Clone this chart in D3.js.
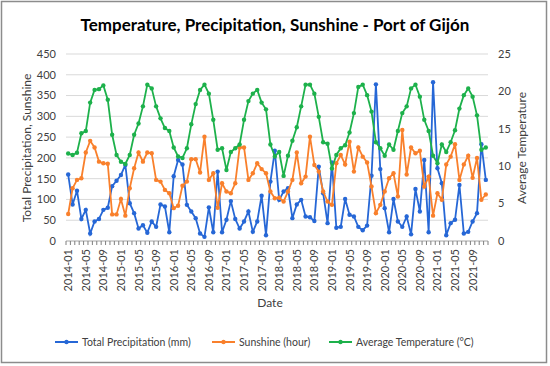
<!DOCTYPE html>
<meta charset="utf-8">
<style>
body { margin: 0; background: #fff; }
svg { font-family: Lato, "Open Sans", sans-serif; }
.grid line { stroke: #d9d9d9; stroke-width: 1px; }
.tick-label { font-size: 11px; fill: #404040; }
.line { fill: none; stroke-width: 1.8px; }
</style>
<svg width="550" height="366"></svg>
<script src="https://cdn.jsdelivr.net/npm/d3@7"></script>
<script>

// monthly data, 2014-01 .. 2021-12
var years = [2014, 2015, 2016, 2017, 2018, 2019, 2020, 2021];

var precipitation = [
  160, 88, 121, 53, 75, 18, 47, 53, 75, 80, 132, 145,
  159, 183, 91, 67, 30, 38, 20, 47, 34, 88, 83, 21,
  156, 195, 184, 87, 71, 55, 18, 10, 81, 21, 167, 21,
  51, 96, 53, 30, 47, 71, 22, 47, 109, 14, 143, 217,
  99, 119, 127, 55, 88, 99, 59, 57, 48, 179, 115, 43,
  189, 32, 34, 101, 63, 59, 34, 26, 37, 157, 377, 173,
  79, 21, 101, 47, 34, 59, 16, 125, 71, 195, 21, 382,
  175, 139, 14, 43, 51, 135, 18, 22, 47, 67, 233, 147
];

var sunshine = [
  65, 127, 147, 151, 213, 241, 225, 191, 187, 186, 64, 64,
  101, 61, 127, 175, 213, 191, 213, 211, 147, 143, 123, 115,
  79, 85, 133, 143, 197, 197, 165, 251, 147, 163, 80, 139,
  119, 115, 139, 225, 225, 147, 163, 187, 173, 163, 119, 103,
  104, 95, 119, 147, 213, 139, 155, 251, 183, 167, 119, 95,
  87, 187, 207, 184, 239, 167, 225, 203, 189, 131, 67, 87,
  119, 151, 163, 107, 267, 160, 225, 211, 217, 131, 155, 61,
  115, 99, 184, 203, 233, 147, 184, 205, 152, 200, 99, 112
];

var temperature = [
  11.7, 11.5, 11.8, 14.4, 14.7, 18.5, 20.2, 20.3, 20.8, 18.9, 14.2, 11.5,
  10.6, 10.3, 11.5, 14.2, 15.7, 18.0, 20.9, 20.4, 18.0, 16.4, 15.1, 14.7,
  12.5, 11.3, 11.1, 12.4, 15.6, 18.3, 20.2, 20.9, 19.7, 16.2, 12.2, 12.4,
  9.5, 11.9, 12.4, 12.9, 16.2, 18.7, 19.7, 20.2, 18.5, 17.6, 12.9, 11.3,
  11.9, 8.7, 11.4, 13.4, 15.2, 18.0, 20.9, 20.9, 19.7, 16.6, 13.2, 13.0,
  9.7, 11.5, 12.4, 12.8, 14.5, 17.1, 20.6, 20.9, 19.5, 17.3, 13.2, 12.4,
  11.4, 12.9, 12.2, 14.7, 17.1, 18.0, 20.4, 20.9, 19.3, 16.2, 14.7, 11.4,
  10.4, 12.9, 11.9, 13.2, 14.8, 17.7, 19.5, 20.4, 19.3, 16.8, 12.2, 12.5
];

var leftTicks = [0, 50, 100, 150, 200, 250, 300, 350, 400, 450],
    rightTicks = [0, 5, 10, 15, 20, 25];

var seriesNames = ["Total Precipitation (mm)", "Sunshine (hour)", "Average Temperature (\u00b0C)"];
var colors = ["#2667d6", "#f9802c", "#1db14b"];

var dates = [];
years.forEach(function(y) {
  for (var m = 1; m <= 12; m++) dates.push(y + "-" + (m < 10 ? "0" + m : m));
});

var svg = d3.select("svg"),
    margin = {top: 54, right: 62, bottom: 125, left: 66},
    width = 550 - margin.left - margin.right,
    height = 366 - margin.top - margin.bottom;

// outer frame
svg.append("rect")
    .attr("x", 1.5).attr("y", 1.5)
    .attr("width", 545).attr("height", 361)
    .attr("fill", "#fff")
    .attr("stroke", "#8c8c8c")
    .attr("stroke-width", 1.5);

var g = svg.append("g").attr("transform", "translate(" + margin.left + "," + margin.top + ")");

var x = d3.scaleBand().domain(dates).range([0, width]).padding(0),
    y = d3.scaleLinear().domain([0, 450]).range([height, 0]),
    y2 = d3.scaleLinear().domain([0, 25]).range([height, 0]);

function cx(d) { return x(d) + x.bandwidth() / 2; }

// gridlines
g.append("g").attr("class", "grid")
  .selectAll("line")
  .data(leftTicks.slice(1))
  .enter().append("line")
    .attr("x1", 0).attr("x2", width)
    .attr("y1", function(d) { return y(d); })
    .attr("y2", function(d) { return y(d); });

// left axis labels
g.selectAll(".ly")
  .data(leftTicks)
  .enter().append("text")
    .attr("class", "tick-label")
    .attr("x", -10)
    .attr("y", function(d) { return y(d); })
    .attr("dy", "0.35em")
    .attr("text-anchor", "end")
    .text(function(d) { return d; });

// right axis labels
g.selectAll(".ry")
  .data(rightTicks)
  .enter().append("text")
    .attr("class", "tick-label")
    .attr("x", width + 10)
    .attr("y", function(d) { return y2(d); })
    .attr("dy", "0.35em")
    .text(function(d) { return d; });

// category axis
var xa = g.append("g").attr("transform", "translate(0," + height + ")");
xa.append("line")
    .attr("x1", 0).attr("x2", width)
    .attr("stroke", "#a6a6a6");
xa.selectAll(".tk")
  .data(dates.concat(["end"]))
  .enter().append("line")
    .attr("x1", function(d) { return d === "end" ? width : x(d); })
    .attr("x2", function(d) { return d === "end" ? width : x(d); })
    .attr("y1", 0).attr("y2", 4)
    .attr("stroke", "#7f7f7f");
xa.selectAll(".xl")
  .data(dates.filter(function(d, i) { return i % 4 === 0; }))
  .enter().append("text")
    .attr("class", "tick-label")
    .attr("transform", function(d) { return "translate(" + (cx(d) + 4) + ",8) rotate(-90)"; })
    .attr("text-anchor", "end")
    .text(function(d) { return d; });

// axis titles
svg.append("text")
    .attr("x", 270).attr("y", 307)
    .attr("text-anchor", "middle")
    .style("font-size", "12px").style("fill", "#404040")
    .text("Date");

svg.append("text")
    .attr("transform", "translate(31,148) rotate(-90)")
    .attr("text-anchor", "middle")
    .style("font-size", "12px").style("fill", "#404040")
    .text("Total Precipitation, Sunshine");

svg.append("text")
    .attr("transform", "translate(526,148) rotate(-90)")
    .attr("text-anchor", "middle")
    .style("font-size", "12px").style("fill", "#404040")
    .text("Average Temperature");

svg.append("text")
    .attr("x", 275).attr("y", 31)
    .attr("text-anchor", "middle")
    .style("font-size", "17px").style("font-weight", "bold").style("fill", "#000")
    .text("Temperature, Precipitation, Sunshine - Port of Gij\u00f3n");

// series
var series = [
  {name: seriesNames[0], values: precipitation, scale: y},
  {name: seriesNames[1], values: sunshine, scale: y},
  {name: seriesNames[2], values: temperature, scale: y2}
];

series.forEach(function(s, k) {
  var line = d3.line()
      .x(function(d, i) { return cx(dates[i]); })
      .y(function(d) { return s.scale(d); });

  g.append("path")
      .datum(s.values)
      .attr("class", "line")
      .attr("d", line)
      .style("stroke", colors[k]);

  g.selectAll(".pt" + k)
    .data(s.values)
    .enter().append("circle")
      .attr("cx", function(d, i) { return cx(dates[i]); })
      .attr("cy", function(d) { return s.scale(d); })
      .attr("r", 2.2)
      .style("fill", colors[k]);
});

// legend
var legendX = [55, 212, 329];
var legend = svg.selectAll(".legend")
    .data(series)
    .enter().append("g")
      .attr("class", "legend")
      .attr("transform", function(d, i) { return "translate(" + legendX[i] + ",342)"; });

legend.append("line")
    .attr("x1", 0).attr("x2", 23)
    .style("stroke", function(d, i) { return colors[i]; })
    .style("stroke-width", 2);
legend.append("circle")
    .attr("cx", 11.5).attr("r", 2.2)
    .style("fill", function(d, i) { return colors[i]; });
legend.append("text")
    .attr("x", 27).attr("dy", "0.35em")
    .style("font-size", "10.5px").style("fill", "#404040")
    .text(function(d) { return d.name; });

</script>
